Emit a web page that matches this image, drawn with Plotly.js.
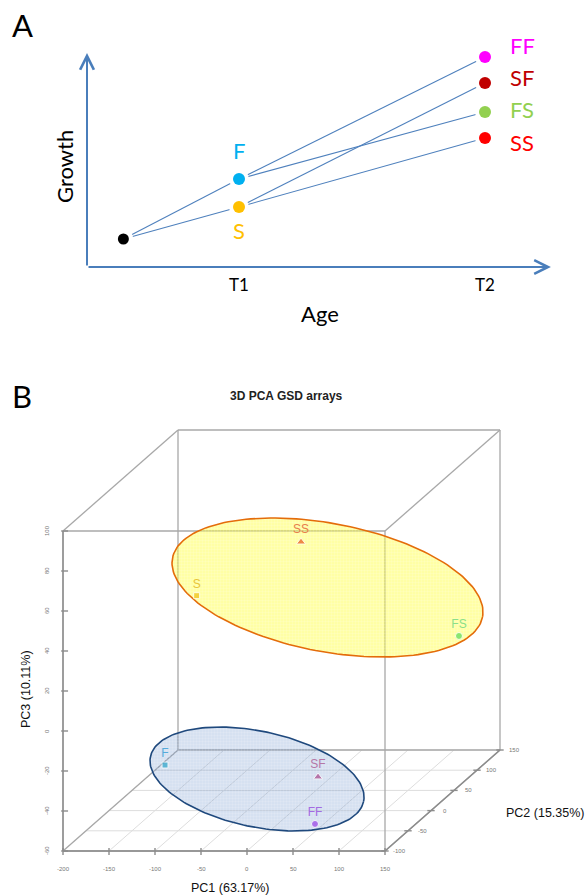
<!DOCTYPE html>
<html>
<head>
<meta charset="utf-8">
<script src="https://cdn.plot.ly/plotly-3.0.1.min.js"></script>
<style>
  html, body { margin: 0; padding: 0; background: #fff; }
  #chart { width: 585px; height: 895px; }
</style>
</head>
<body>
<div id="chart"></div>
<script>
// ---------- Panel A: growth trajectories ----------
const stageNames  = ['', 'F', 'S', 'FF', 'SF', 'FS', 'SS'];
const stageAge    = [0.53, 1, 1, 2, 2, 2, 2];
const stageGrowth = [2.8, 8.8, 6.0, 21.0, 18.4, 15.5, 12.9];
const stageParent = [null, 0, 0, 1, 2, 1, 2];
const ageTickVals = [1, 2];
const ageTickText = ['T1', 'T2'];

// ---------- Panel B: 3D PCA of the GSD arrays ----------
const sampleNames = ['F', 'S', 'FF', 'SF', 'FS', 'SS'];
const pc1 = [-109.1, -94.7, 43.9, -2.8, 125.4, -11.3];
const pc2 = [-60, -20, -40, 60, 110, 40];
const pc3 = [-25.1, 51.5, -58.6, -55.3, 5.1, 66.2];
const pc1Ticks = [-200, -150, -100, -50, 0, 50, 100, 150];
const pc2Ticks = [-100, -50, 0, 50, 100, 150];
const pc3Ticks = [-60, -40, -20, 0, 20, 40, 60, 80, 100];

// ---------- styling ----------
const W = 585, H = 895;
const FONT_A = 'Lato, "Open Sans", sans-serif';
const FONT_B = '"Liberation Sans", Arial, sans-serif';
const AXIS_BLUE = '#4A7EBB';
const LINE_BLUE = '#4F81BD';
const stageColors = ['#000000', '#00B0F0', '#FFC000', '#FF00FF', '#C00000', '#92D050', '#FF0000'];
const stageLabelShift = { F: [0, 29], S: [0, -23], FF: [37, 12], SF: [37, 6], FS: [37, 3], SS: [37, -4] };

const sampleSymbols = { F: 'square', S: 'square', FF: 'circle', SF: 'triangle-up', FS: 'circle', SS: 'triangle-up' };
const sampleSizes   = { F: 6, S: 6, FF: 7, SF: 8, FS: 7, SS: 8 };
const sampleColors  = { F: '#2AA3C9', S: '#F0C010', FF: '#9A40E8', SF: '#A8488C', FS: '#58DC58', SS: '#E8561C' };
const sampleText    = { F: '#55AADA', S: '#E8C43A', FF: '#A46BE2', SF: '#B577A6', FS: '#8ADF8A', SS: '#E8804C' };

// Panel A frame
const xRangeA = [0.38211, 2.4065];
const yRangeA = [0, 26.7];
const AGE_ARROW_END = 2.268;
const GROWTH_ARROW_END = 21.4;

// Panel B frame (oblique projection of the 3D box)
const domBTop = 515 / H;
const xRangeB = [-268.48, 367.39];
const yRangeB = [-82, 175.5];
const DEPTH_X = 0.5, DEPTH_Y = 0.202;
const p1Lim = [pc1Ticks[0], pc1Ticks[pc1Ticks.length - 1]];
const p2Lim = [pc2Ticks[0], pc2Ticks[pc2Ticks.length - 1]];
const p3Lim = [pc3Ticks[0], pc3Ticks[pc3Ticks.length - 1]];
function proj(a, b, c) {
  return [a + DEPTH_X * (b - p2Lim[0]), c + DEPTH_Y * (b - p2Lim[0])];
}
const pxPerX = W / (xRangeB[1] - xRangeB[0]);
const pxPerY = H * domBTop / (yRangeB[1] - yRangeB[0]);

// group ellipses, drawn on the projected plane (centre in plot units, radii in px)
const ellipses = [
  { cx: 87.5, cy: 71.75, a: 157.8, b: 64.1, angle: 10.75, fill: 'rgba(255,255,30,0.40)',
    mesh: 'rgba(255,255,255,0.45)', line: '#E46C0A' },
  { cx: 10.9, cy: -24.0, a: 108.9, b: 47.9, angle: 11.9, fill: 'rgba(95,140,200,0.26)',
    mesh: 'rgba(255,255,255,0.40)', line: '#1F497D' }
];

const traces = [];

// --- Panel A: growth lines ---
{
  const lx = [], ly = [];
  stageParent.forEach((p, i) => {
    if (p === null) return;
    lx.push(stageAge[p], stageAge[i], null);
    ly.push(stageGrowth[p], stageGrowth[i], null);
  });
  traces.push({ x: lx, y: ly, mode: 'lines', xaxis: 'x', yaxis: 'y',
    line: { color: LINE_BLUE, width: 1.1 }, hoverinfo: 'skip', showlegend: false });
  // white halo leaves a small gap between each line end and its dot
  traces.push({ x: stageAge, y: stageGrowth, mode: 'markers', xaxis: 'x', yaxis: 'y',
    marker: { size: 20, color: '#ffffff', opacity: 1 }, hoverinfo: 'skip', showlegend: false });
  traces.push({ x: stageAge, y: stageGrowth, mode: 'markers', xaxis: 'x', yaxis: 'y',
    marker: { size: stageAge.map((_, i) => i === 0 ? 11 : 12), color: stageColors, opacity: 1,
      line: { width: 0 } },
    showlegend: false });
}

// --- Panel B: floor grid ---
{
  const gx = [], gy = [];
  pc1Ticks.forEach(t => {
    const a = proj(t, p2Lim[0], p3Lim[0]), b = proj(t, p2Lim[1], p3Lim[0]);
    gx.push(a[0], b[0], null); gy.push(a[1], b[1], null);
  });
  pc2Ticks.forEach(t => {
    const a = proj(p1Lim[0], t, p3Lim[0]), b = proj(p1Lim[1], t, p3Lim[0]);
    gx.push(a[0], b[0], null); gy.push(a[1], b[1], null);
  });
  traces.push({ x: gx, y: gy, mode: 'lines', xaxis: 'x2', yaxis: 'y2',
    line: { color: '#DDDDDD', width: 1 }, hoverinfo: 'skip', showlegend: false });
}

// --- Panel B: box edges ---
{
  const bx = [], by = [];
  const corners = [];
  for (const a of p1Lim) for (const b of p2Lim) for (const c of p3Lim) corners.push([a, b, c]);
  for (let i = 0; i < corners.length; i++) {
    for (let j = i + 1; j < corners.length; j++) {
      const d = corners[i].reduce((s, v, k) => s + (v !== corners[j][k] ? 1 : 0), 0);
      if (d !== 1) continue;
      const p = proj(...corners[i]), q = proj(...corners[j]);
      bx.push(p[0], q[0], null); by.push(p[1], q[1], null);
    }
  }
  traces.push({ x: bx, y: by, mode: 'lines', xaxis: 'x2', yaxis: 'y2',
    line: { color: '#A8A8A8', width: 1.3 }, hoverinfo: 'skip', showlegend: false });

  // the three labelled axes, a little darker
  const ax = [], ay = [];
  const axesEnds = [
    [[p1Lim[0], p2Lim[0], p3Lim[0]], [p1Lim[1], p2Lim[0], p3Lim[0]]],
    [[p1Lim[1], p2Lim[0], p3Lim[0]], [p1Lim[1], p2Lim[1], p3Lim[0]]],
    [[p1Lim[0], p2Lim[0], p3Lim[0]], [p1Lim[0], p2Lim[0], p3Lim[1]]]
  ];
  axesEnds.forEach(([s, e]) => {
    const p = proj(...s), q = proj(...e);
    ax.push(p[0], q[0], null); ay.push(p[1], q[1], null);
  });
  // tick marks
  pc1Ticks.forEach(t => {
    const p = proj(t, p2Lim[0], p3Lim[0]);
    ax.push(p[0], p[0], null); ay.push(p[1] - 2, p[1] + 1.5, null);
  });
  pc2Ticks.forEach(t => {
    const p = proj(p1Lim[1], t, p3Lim[0]);
    ax.push(p[0] - 4, p[0] + 4, null); ay.push(p[1], p[1], null);
  });
  pc3Ticks.forEach(t => {
    const p = proj(p1Lim[0], p2Lim[0], t);
    ax.push(p[0] - 2, p[0] + 5.5, null); ay.push(p[1], p[1], null);
  });
  traces.push({ x: ax, y: ay, mode: 'lines', xaxis: 'x2', yaxis: 'y2',
    line: { color: '#8C8C8C', width: 1.4 }, hoverinfo: 'skip', showlegend: false });
}

// --- Panel B: group ellipses ---
ellipses.forEach(e => {
  const ex = [], ey = [];
  const th = e.angle * Math.PI / 180;
  for (let k = 0; k <= 180; k++) {
    const t = 2 * Math.PI * k / 180;
    const dx = e.a * Math.cos(t) * Math.cos(th) - e.b * Math.sin(t) * Math.sin(th);
    const dy = e.a * Math.cos(t) * Math.sin(th) + e.b * Math.sin(t) * Math.cos(th);
    ex.push(e.cx + dx / pxPerX);
    ey.push(e.cy - dy / pxPerY);
  }
  traces.push({ x: ex, y: ey, mode: 'lines', fill: 'toself', fillcolor: e.fill,
    fillpattern: { shape: '+', size: 3, solidity: 0.2, fgcolor: e.mesh, bgcolor: e.fill },
    xaxis: 'x2', yaxis: 'y2', line: { color: e.line, width: 1.6 },
    hoverinfo: 'skip', showlegend: false });
});

// --- Panel B: samples ---
{
  const P = sampleNames.map((_, i) => proj(pc1[i], pc2[i], pc3[i]));
  traces.push({
    x: P.map(p => p[0]), y: P.map(p => p[1]),
    mode: 'markers+text', xaxis: 'x2', yaxis: 'y2',
    text: sampleNames, textposition: 'top center',
    textfont: { family: FONT_B, size: 12, color: sampleNames.map(n => sampleText[n]) },
    marker: {
      symbol: sampleNames.map(n => sampleSymbols[n]),
      size: sampleNames.map(n => sampleSizes[n]),
      color: sampleNames.map(n => sampleColors[n])
    },
    showlegend: false
  });
}

// ---------- annotations ----------
const annotations = [];
// text centred on a page position given in pixels
function pageText(px, py, text, font, angle) {
  return { xref: 'paper', yref: 'paper', x: px / W, y: 1 - py / H, text: text,
    xanchor: 'center', yanchor: 'middle', textangle: angle || 0, showarrow: false, font: font };
}

// panel letters
annotations.push(pageText(22, 25, 'A', { family: FONT_A, size: 31, color: '#000' }));
annotations.push(pageText(22, 396, 'B', { family: FONT_A, size: 31, color: '#000' }));

// panel A axis arrows and titles
annotations.push({ xref: 'x', yref: 'y', axref: 'x', ayref: 'y', x: AGE_ARROW_END, y: 0,
  ax: xRangeA[0], ay: 0, text: '', showarrow: true, arrowhead: 5, arrowsize: 1.35, arrowwidth: 2,
  arrowcolor: AXIS_BLUE });
annotations.push({ xref: 'x', yref: 'y', axref: 'x', ayref: 'y', x: xRangeA[0], y: GROWTH_ARROW_END,
  ax: xRangeA[0], ay: 0, text: '', showarrow: true, arrowhead: 5, arrowsize: 1.35, arrowwidth: 2,
  arrowcolor: AXIS_BLUE });
annotations.push(pageText(320, 313, 'Age', { family: FONT_A, size: 22, color: '#000' }));
annotations.push(pageText(65, 167, 'Growth', { family: FONT_A, size: 22, color: '#000' }, -90));

// panel A stage labels
stageNames.forEach((n, i) => {
  if (!n) return;
  const s = stageLabelShift[n];
  annotations.push({ xref: 'x', yref: 'y', x: stageAge[i], y: stageGrowth[i], text: n,
    xanchor: 'center', yanchor: 'middle', showarrow: false, xshift: s[0], yshift: s[1],
    font: { family: FONT_A, size: 22, color: stageColors[i] } });
});

// panel B title and axis titles
annotations.push(pageText(286, 396, '<b>3D PCA GSD arrays</b>', { family: FONT_B, size: 12, color: '#222' }));
annotations.push(pageText(230, 888, 'PC1 (63.17%)', { family: FONT_B, size: 12.5, color: '#111' }));
annotations.push(pageText(545, 813, 'PC2 (15.35%)', { family: FONT_B, size: 12.5, color: '#111' }));
annotations.push(pageText(26, 689, 'PC3 (10.11%)', { family: FONT_B, size: 12.5, color: '#111' }, -90));

// panel B tick labels
const tickFont = { family: FONT_B, size: 6, color: '#777' };
pc1Ticks.forEach(t => {
  const p = proj(t, p2Lim[0], p3Lim[0]);
  annotations.push({ xref: 'x2', yref: 'y2', x: p[0], y: p[1], yshift: -18, text: String(t),
    xanchor: 'center', yanchor: 'middle', showarrow: false, font: tickFont });
});
pc2Ticks.forEach(t => {
  const p = proj(p1Lim[1], t, p3Lim[0]);
  annotations.push({ xref: 'x2', yref: 'y2', x: p[0], y: p[1], xshift: 14, text: String(t),
    xanchor: 'center', yanchor: 'middle', showarrow: false, font: tickFont });
});
pc3Ticks.forEach(t => {
  const p = proj(p1Lim[0], p2Lim[0], t);
  annotations.push({ xref: 'x2', yref: 'y2', x: p[0], y: p[1], xshift: -16, textangle: -90,
    xanchor: 'center', yanchor: 'middle', text: String(t), showarrow: false, font: tickFont });
});

const layout = {
  width: W, height: H,
  margin: { l: 0, r: 0, t: 0, b: 0, pad: 0 },
  paper_bgcolor: '#fff', plot_bgcolor: 'rgba(0,0,0,0)',
  showlegend: false,
  xaxis: {
    domain: [87 / W, 1], range: xRangeA, anchor: 'y',
    showgrid: false, zeroline: false, showline: false, ticks: '',
    tickvals: ageTickVals, ticktext: ageTickText, ticklabelstandoff: 6,
    tickfont: { family: FONT_A, size: 17, color: '#000' },
    fixedrange: true
  },
  yaxis: {
    domain: [1 - 267 / H, 1], range: yRangeA, anchor: 'x',
    showgrid: false, zeroline: false, showline: false, ticks: '', showticklabels: false,
    fixedrange: true
  },
  xaxis2: { domain: [0, 1], range: xRangeB, anchor: 'y2', visible: false, fixedrange: true },
  yaxis2: { domain: [0, domBTop], range: yRangeB, anchor: 'x2', visible: false, fixedrange: true },
  annotations: annotations
};

Plotly.newPlot('chart', traces, layout, { displayModeBar: false, staticPlot: true });
</script>
</body>
</html>
